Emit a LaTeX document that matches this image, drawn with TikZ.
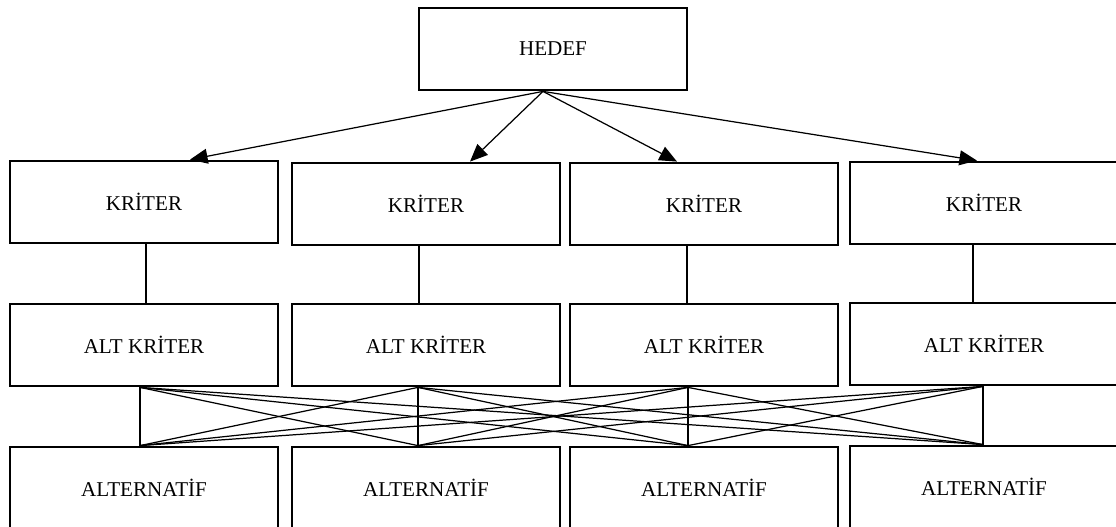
\documentclass[tikz,border=0pt]{standalone}
\usepackage{fontspec}
\setmainfont{Liberation Serif}
\usepackage{tikz}
\usetikzlibrary{calc}
\usetikzlibrary{arrows.meta}

\begin{document}
\begin{tikzpicture}[x=0.02cm, y=-0.02cm,
		box/.style={draw, line width=1.6pt, minimum width=5.36cm, minimum height=1.64cm, inner sep=0pt, font=\fontsize{12}{14}\selectfont},
		link/.style={line width=0.7pt},
		arr/.style={line width=0.7pt, -{Triangle[length=10pt, width=8.5pt]}}]
				\useasboundingbox (0,0) rectangle (1116,527);
				\node[box] (H) at (553,49) {HEDEF};
				
				\node[box] (K1) at (144,202) {KRİTER};
				\node[box] (K2) at (426,204) {KRİTER};
				\node[box] (K3) at (704,204) {KRİTER};
				\node[box] (K4) at (984,203) {KRİTER};
				
				\node[box] (A1) at (144,345) {ALT KRİTER};
				\node[box] (A2) at (426,345) {ALT KRİTER};
				\node[box] (A3) at (704,345) {ALT KRİTER};
				\node[box] (A4) at (984,344) {ALT KRİTER};
				
				\node[box] (S1) at (144,488) {ALTERNATİF};
				\node[box] (S2) at (426,488) {ALTERNATİF};
				\node[box] (S3) at (704,488) {ALTERNATİF};
				\node[box] (S4) at (984,487) {ALTERNATİF};
				
				\coordinate (hub) at ($(H.south)+(-10,0)$);
				\draw[arr] (hub) -- ($(K1.north)+(46,0)$);
				\draw[arr] (hub) -- ($(K2.north)+(44,0)$);
				\draw[arr] (hub) -- ($(K3.north)+(-27,0)$);
				\draw[arr] (hub) -- ($(K4.north)+(-7,0)$);
				
				\draw[link] ($(K1.south)+(2,0)$) -- ($(A1.north)+(2,0)$);
				\draw[link] ($(K2.south)+(-7,0)$) -- ($(A2.north)+(-7,0)$);
				\draw[link] ($(K3.south)+(-17,0)$) -- ($(A3.north)+(-17,0)$);
				\draw[link] ($(K4.south)+(-11,0)$) -- ($(A4.north)+(-11,0)$);
				
				\coordinate (p1) at ($(A1.south)+(-4,0)$);
				\coordinate (p2) at ($(A2.south)+(-8,0)$);
				\coordinate (p3) at ($(A3.south)+(-16,0)$);
				\coordinate (p4) at ($(A4.south)+(-1,0)$);
				\coordinate (q1) at ($(S1.north)+(-4,0)$);
				\coordinate (q2) at ($(S2.north)+(-8,0)$);
				\coordinate (q3) at ($(S3.north)+(-16,0)$);
				\coordinate (q4) at ($(S4.north)+(-1,0)$);
				\foreach \i in {1,...,4}
					\foreach \j in {1,...,4}
						\draw[link] (p\i) -- (q\j);
			\end{tikzpicture}
\end{document}
